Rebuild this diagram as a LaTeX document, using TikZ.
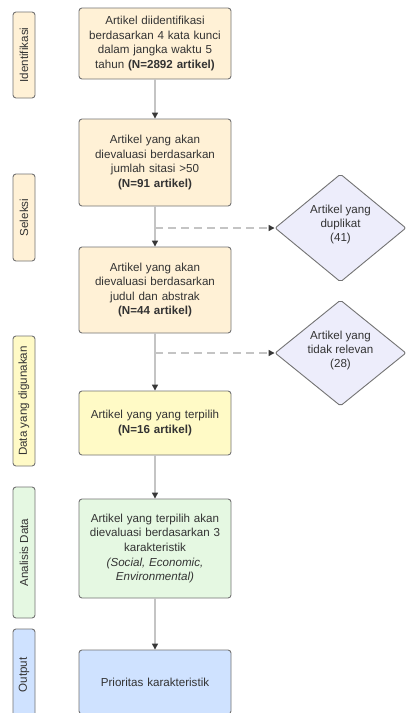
\documentclass[tikz,border=0pt]{standalone}
\usepackage{fontspec}
\setmainfont{Liberation Sans}
\usetikzlibrary{arrows.meta,shapes.geometric}
\definecolor{peach}{RGB}{255,241,214}
\definecolor{lyellow}{RGB}{255,250,198}
\definecolor{lgreen}{RGB}{229,248,226}
\definecolor{lblue}{RGB}{207,226,255}
\definecolor{lavender}{RGB}{237,237,251}
\definecolor{bordergray}{RGB}{115,115,115}
\definecolor{linegray}{RGB}{196,196,196}
\definecolor{tipgray}{RGB}{55,55,55}
\definecolor{txt}{RGB}{51,51,51}
\tikzset{
  stepbox/.style={draw=bordergray, line width=0.9pt, rounded corners=3pt,
    minimum width=152pt, align=center, text width=146pt, text=txt,
    font=\fontsize{11.6}{14.6}\selectfont, inner sep=0pt},
  sidelabel/.style={draw=bordergray, line width=0.9pt, rounded corners=3pt,
    rotate=90, minimum height=22pt, inner sep=0pt, text=txt,
    font=\fontsize{11.6}{13}\selectfont},
  decision/.style={draw=bordergray, line width=0.9pt, diamond, rounded corners=2pt,
    inner sep=0pt, fill=lavender},
  dtext/.style={align=center, text=txt, font=\fontsize{11.6}{14}\selectfont, inner sep=0pt},
  conn/.style={draw=linegray, line width=1.3pt, -{Triangle[width=6pt,length=6pt,color=tipgray]}},
  dconn/.style={draw=linegray, line width=1.3pt, dash pattern=on 8pt off 5pt,
    -{Triangle[width=6pt,length=6pt,color=tipgray]}}
}
\begin{document}
\begin{tikzpicture}[x=1pt,y=-1pt]
\useasboundingbox (0,0) rectangle (406,713);
\clip (0,0) rectangle (406,713);
\fill[white] (0,0) rectangle (406,713);

% side labels
\node[sidelabel, fill=peach, minimum width=86pt] (s1) at (24,55) {Identifikasi};
\node[sidelabel, fill=peach, minimum width=87pt] (s2) at (24,217.5) {Seleksi};
\node[sidelabel, fill=lyellow, minimum width=130pt] (s3) at (24,401) {Data yang digunakan};
\node[sidelabel, fill=lgreen, minimum width=131pt] (s4) at (24,552.5) {Analisis Data};
\node[sidelabel, fill=lblue, minimum width=92pt] (s5) at (24,675) {Output};

% main boxes
\node[stepbox, fill=peach, minimum height=71pt] (b1) at (155,43.5)
  {Artikel diidentifikasi\\berdasarkan 4 kata kunci\\dalam jangka waktu 5\\tahun \textbf{(N=2892 artikel)}};
\node[stepbox, fill=peach, minimum height=87pt] (b2) at (155,162.5)
  {Artikel yang akan\\dievaluasi berdasarkan\\jumlah sitasi >50\\\textbf{(N=91 artikel)}};
\node[stepbox, fill=peach, minimum height=86pt] (b3) at (155,290)
  {Artikel yang akan\\dievaluasi berdasarkan\\judul dan abstrak\\\textbf{(N=44 artikel)}};
\node[stepbox, fill=lyellow, minimum height=64pt] (b4) at (155,423)
  {Artikel yang yang terpilih\\\textbf{(N=16 artikel)}};
\node[stepbox, fill=lgreen, minimum height=99pt] (b5) at (155,548.5)
  {Artikel yang terpilih akan\\dievaluasi berdasarkan 3\\karakteristik\\\textit{(Social, Economic,}\\\textit{Environmental)}};
\node[stepbox, fill=lblue, minimum height=64pt] (b6) at (155,682)
  {Prioritas karakteristik};

% decisions
\node[decision, minimum width=131pt, minimum height=108pt] (d1) at (340.5,228) {};
\node[dtext] (d1t) at (340.5,224) {Artikel yang\\duplikat\\(41)};
\node[decision, minimum width=131pt, minimum height=106pt] (d2) at (340.5,353) {};
\node[dtext] (d2t) at (340.5,350) {Artikel yang\\tidak relevan\\(28)};

% connectors
\draw[conn] (b1) -- (b2);
\draw[conn] (b2) -- (b3);
\draw[conn] (b3) -- (b4);
\draw[conn] (b4) -- (b5);
\draw[conn] (b5) -- (b6);
\coordinate (j1) at (b2.south |- d1.west);
\coordinate (j2) at (b3.south |- d2.west);
\draw[dconn] (j1) -- (d1.west);
\draw[dconn] (j2) -- (d2.west);
\end{tikzpicture}
\end{document}
